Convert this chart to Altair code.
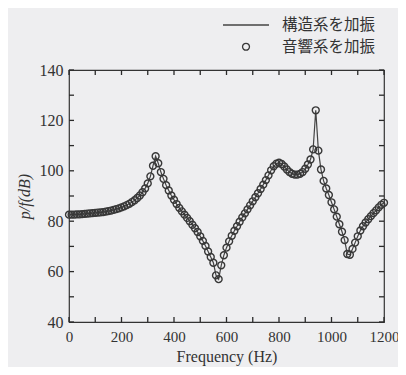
import altair as alt
import pandas as pd

# Frequency grid (Hz) and response levels p/f (dB)
freqs = list(range(0, 1201, 10))
structural = [
    82.6, 82.6, 82.6, 82.7, 82.7, 82.8, 82.9, 83.0, 83.1, 83.2,   # 0-90
    83.3, 83.4, 83.5, 83.6, 83.8, 84.0, 84.2, 84.5, 84.8, 85.1,   # 100-190
    85.5, 85.9, 86.4, 86.9, 87.6, 88.3, 89.2, 90.2, 91.5, 93.0,   # 200-290
    95.0, 97.8, 102.0, 105.8, 103.0, 99.5, 96.8, 94.3, 92.2, 90.2,  # 300-390
    88.5, 86.8, 85.3, 83.9, 82.6, 81.3, 80.0, 78.6, 77.2, 75.7,   # 400-490
    74.0, 72.2, 70.2, 68.0, 65.8, 63.5, 58.5, 57.0, 62.5, 66.5,   # 500-590
    69.5, 72.0, 74.2, 76.2, 78.0, 79.8, 81.5, 83.1, 84.7, 86.3,   # 600-690
    87.9, 89.5, 91.1, 92.8, 94.5, 96.3, 98.2, 100.2, 101.8, 102.8,  # 700-790
    103.2, 102.7, 101.7, 100.5, 99.5, 98.8, 98.5, 98.5, 98.8, 99.5,  # 800-890
    100.8, 102.5, 104.5, 108.5, 124.0, 108.0, 100.5, 96.0, 93.0, 90.4,  # 900-990
    87.5, 84.7, 81.8, 78.8, 75.8, 72.5, 67.0, 66.7, 69.0, 71.5,   # 1000-1090
    74.0, 76.3, 78.0, 79.5, 80.8, 82.0, 83.2, 84.3, 85.5, 86.5,   # 1100-1190
    87.3,                                                          # 1200
]
acoustic = list(structural)

S1 = "構造系を加振"
S2 = "音響系を加振"
series_names = [S1, S2]

x_ticks = list(range(0, 1201, 100))
y_ticks = list(range(40, 141, 10))

W, H = 315, 252
TICK = 5

df_line = pd.DataFrame({"freq": freqs, "level": structural, "series": S1})
df_pts = pd.DataFrame({"freq": freqs, "level": acoustic, "series": S2})
df_xt = pd.DataFrame({"freq": x_ticks})
df_yt = pd.DataFrame({"level": y_ticks})

serif = "Liberation Serif"
ink = "#333333"
line_col = "#444444"
pt_col = "#383838"

xscale = alt.Scale(domain=[0, 1200], nice=False, zero=False)
yscale = alt.Scale(domain=[40, 140], nice=False, zero=False)
color_scale = alt.Scale(domain=series_names, range=[line_col, pt_col])
shape_scale = alt.Scale(domain=series_names, range=["stroke", "circle"])
size_scale = alt.Scale(domain=series_names, range=[2116, 48])

legend = alt.Legend(
    title=None, orient="none", legendX=153, legendY=-69,
    labelFont="Noto Sans CJK JP", labelFontSize=15.5, labelColor=ink,
    symbolStrokeWidth=1.3, labelOffset=12, rowPadding=5, padding=0,
    symbolFillColor="transparent",
)

bottom_axis = alt.Axis(
    orient="bottom", values=x_ticks, format="d",
    labelExpr="datum.value % 200 == 0 ? datum.label : ''",
    labelFont=serif, labelFontSize=15, labelColor=ink, labelPadding=7,
    labelFlush=False, labelOverlap=False, ticks=False, domain=False, grid=False,
    titleFont=serif, titleFontSize=16, titleFontWeight="normal", titleColor=ink,
    titlePadding=4,
)
left_axis = alt.Axis(
    orient="left", values=y_ticks, format="d",
    labelExpr="datum.value % 20 == 0 ? datum.label : ''",
    labelFont=serif, labelFontSize=16, labelColor=ink, labelPadding=6,
    labelFlush=False, labelOverlap=False, ticks=False, domain=False, grid=False,
    titleFont=serif, titleFontSize=16, titleFontWeight="normal", titleColor=ink,
    titleFontStyle="italic", titlePadding=7,
)

line = alt.Chart(df_line).mark_line(strokeWidth=1.2).encode(
    x=alt.X("freq:Q", scale=xscale, axis=bottom_axis, title="Frequency (Hz)"),
    y=alt.Y("level:Q", scale=yscale, axis=left_axis, title="p/f(dB)"),
    color=alt.Color("series:N", scale=color_scale, legend=legend),
)

pts = alt.Chart(df_pts).mark_point(filled=False, strokeWidth=1.4, opacity=1).encode(
    x=alt.X("freq:Q", scale=xscale),
    y=alt.Y("level:Q", scale=yscale),
    color=alt.Color("series:N", scale=color_scale, legend=legend),
    shape=alt.Shape("series:N", scale=shape_scale, legend=legend),
    size=alt.Size("series:N", scale=size_scale, legend=legend),
)

tick_color = "#2a2a2a"
xt_bottom = alt.Chart(df_xt).mark_rule(color=tick_color, strokeWidth=1.3).encode(
    x=alt.X("freq:Q", scale=xscale), y=alt.value(H - TICK), y2=alt.value(H))
xt_top = alt.Chart(df_xt).mark_rule(color=tick_color, strokeWidth=1.3).encode(
    x=alt.X("freq:Q", scale=xscale), y=alt.value(0), y2=alt.value(TICK))
yt_left = alt.Chart(df_yt).mark_rule(color=tick_color, strokeWidth=1.3).encode(
    y=alt.Y("level:Q", scale=yscale), x=alt.value(0), x2=alt.value(TICK))
yt_right = alt.Chart(df_yt).mark_rule(color=tick_color, strokeWidth=1.3).encode(
    y=alt.Y("level:Q", scale=yscale), x=alt.value(W - TICK), x2=alt.value(W))

chart = (
    alt.layer(line, pts, xt_bottom, xt_top, yt_left, yt_right)
    .properties(
        width=W, height=H,
        autosize=alt.AutoSizeParams(type="none"),
        padding={"left": 61, "top": 62, "right": 14, "bottom": 45},
    )
    .configure(background="#eeeef0")
    .configure_view(stroke=ink, strokeWidth=1.2)
)

chart.save("out.html", embed_options={"renderer": "svg", "actions": False})
